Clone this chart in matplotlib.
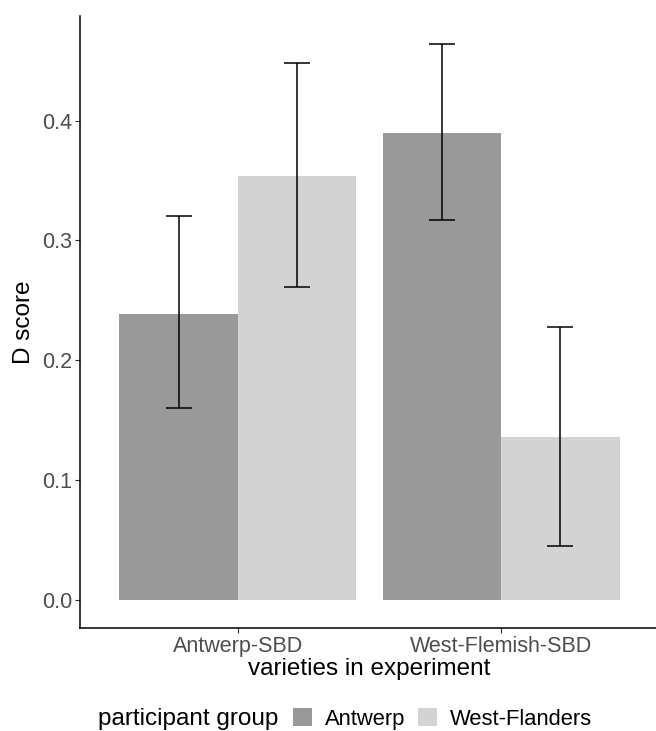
import matplotlib
matplotlib.use("Agg")
import matplotlib.pyplot as plt
import numpy as np
from matplotlib.patches import Patch

plt.rcParams['font.family'] = ['Liberation Sans', 'DejaVu Sans']

varieties = ["Antwerp-SBD", "West-Flemish-SBD"]
groups = ["Antwerp", "West-Flanders"]
means = {"Antwerp": [0.239, 0.390], "West-Flanders": [0.354, 0.136]}
lower = {"Antwerp": [0.160, 0.317], "West-Flanders": [0.261, 0.045]}
upper = {"Antwerp": [0.320, 0.464], "West-Flanders": [0.448, 0.228]}
colors = {"Antwerp": "#999999", "West-Flanders": "#D3D3D3"}
yticks = [0.0, 0.1, 0.2, 0.3, 0.4]

fig = plt.figure(figsize=(6.56, 7.31), dpi=100)
ax = fig.add_axes([80/656, 1-628/731, 579/656, 612/731])

x = np.arange(1, len(varieties)+1)
w = 0.45
for i, g in enumerate(groups):
    xpos = x + (i - 0.5) * w
    m = np.array(means[g])
    lo = np.array(lower[g]); hi = np.array(upper[g])
    ax.bar(xpos, m, width=w, color=colors[g], edgecolor='none', zorder=1)
    ax.errorbar(xpos, m, yerr=[m - lo, hi - m], fmt='none', ecolor='black',
                elinewidth=1.1, capsize=9.4, capthick=1.1, zorder=2)

ax.set_xlim(0.4, 2.6)
ax.set_ylim(-0.0232, 0.4872)
ax.set_xticks(x)
ax.set_xticklabels(varieties)
ax.set_yticks(yticks)
ax.set_yticklabels([f"{t:.1f}" for t in yticks])
ax.tick_params(axis='both', colors='#333333', labelcolor='#4D4D4D', labelsize=15.5, length=3.5, width=0.8)
ax.tick_params(axis='x', pad=2)
ax.tick_params(axis='y', pad=2)
for s in ['top', 'right']:
    ax.spines[s].set_visible(False)
for s in ['left', 'bottom']:
    ax.spines[s].set_linewidth(1.1)
    ax.spines[s].set_color('black')

ax.set_xlabel("varieties in experiment", fontsize=17.5, color='black', labelpad=1)
ax.set_ylabel("D score", fontsize=17.5, color='black', labelpad=5)

ly = 1 - 719/731
fs_leg = 15.8
fig.text(98/656, ly, "participant group", ha='left', va='center', fontsize=17.5, color='black')
handles = [Patch(facecolor=colors[g], edgecolor='none') for g in groups]
leg = fig.legend(handles, groups, loc='center left', bbox_to_anchor=(293/656, ly), ncol=2,
                 frameon=False, fontsize=fs_leg, borderpad=0, borderaxespad=0,
                 handlelength=0.87, handleheight=0.87, handletextpad=0.6, columnspacing=0.55)

fig.savefig("out.png", dpi=100)
